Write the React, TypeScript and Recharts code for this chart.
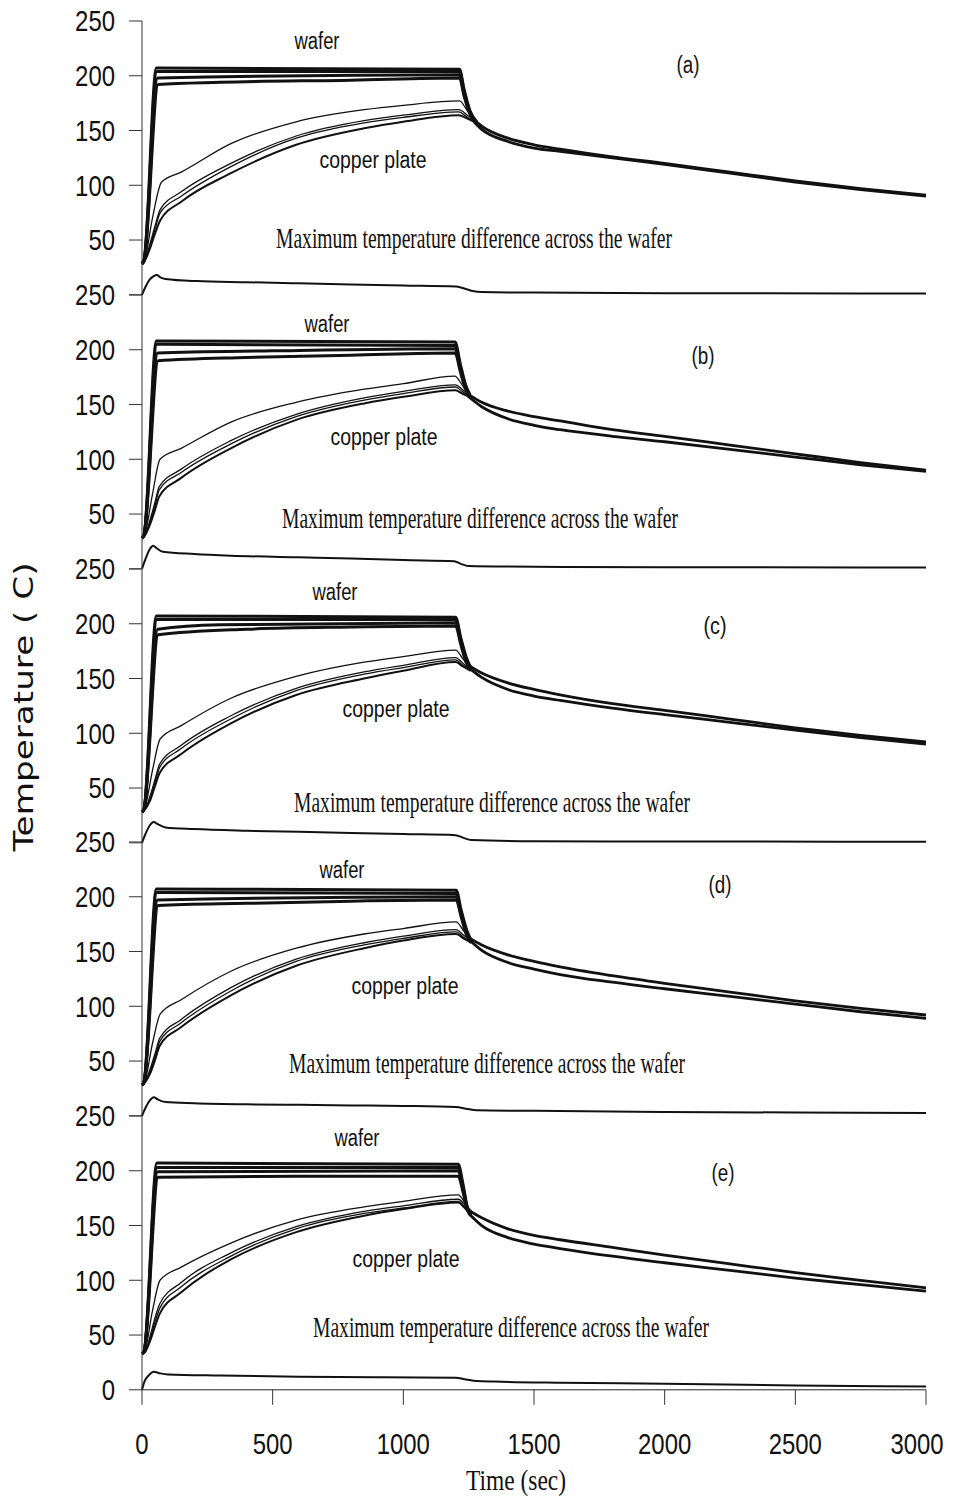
import { Line, LineChart, XAxis, YAxis } from "recharts";

type Pt = [number, number];

// time (sec), temperature (C)
const waferA: Pt[][] = [
  [[0, 29], [8, 32], [55, 207], [1215, 206], [1232, 188], [1255, 168], [1280, 158]],
  [[0, 29], [8, 32], [57, 204], [1215, 204], [1232, 186], [1255, 167], [1280, 158]],
  [[0, 28], [8, 31], [60, 198], [1215, 201], [1232, 184], [1255, 166], [1280, 157]],
  [[0, 28], [8, 31], [62, 192], [300, 194], [800, 196], [1215, 198], [1232, 182], [1255, 165], [1280, 157]],
];
const copperA: Pt[][] = [
  [[0, 29], [10, 32], [40, 70], [75, 103], [150, 112], [340, 138], [590, 158], [850, 169], [1000, 173], [1215, 177], [1245, 168], [1280, 158]],
  [[0, 29], [10, 31], [30, 46], [50, 63], [70, 78], [150, 94], [340, 120], [590, 145], [850, 159], [1000, 164], [1212, 169], [1245, 164], [1280, 158]],
  [[0, 29], [10, 31], [30, 44], [50, 60], [70, 75], [150, 90], [340, 117], [590, 143], [850, 157], [1000, 162], [1212, 167], [1245, 162], [1280, 157]],
  [[0, 29], [10, 31], [30, 42], [50, 56], [70, 68], [150, 85], [340, 111], [590, 137], [850, 152], [1000, 158], [1212, 164], [1245, 161], [1280, 157]],
];
const decayA: Pt[][] = [
  [[1270, 160], [1300, 154], [1400, 143], [1500, 137], [1600, 133], [1800, 126], [2000, 120], [2250, 112], [2500, 104], [2750, 97], [3000, 91]],
  [[1270, 158], [1300, 151], [1400, 140], [1500, 134], [1600, 131], [1800, 125], [2000, 119], [2250, 111], [2500, 103], [2750, 96], [3000, 90]],
];
const diffA: Pt[] = [
  [0, 0], [15, 8], [30, 14], [45, 17], [57, 18], [70, 16], [90, 14.5], [210, 12.5], [400, 11.5], [600, 10.5],
  [800, 9.5], [1000, 8.5], [1200, 7.5], [1230, 6], [1265, 3.5], [1300, 2.5], [1500, 2], [2000, 1.5], [3000, 1.2],
];

const waferB: Pt[][] = [
  [[0, 28], [8, 31], [55, 208], [1198, 207], [1218, 187], [1238, 168], [1255, 159]],
  [[0, 28], [8, 31], [57, 205], [1198, 204], [1218, 185], [1238, 167], [1255, 158]],
  [[0, 28], [8, 31], [60, 197], [500, 199], [1198, 201], [1218, 183], [1238, 166], [1255, 158]],
  [[0, 28], [8, 31], [62, 190], [400, 193], [800, 195], [1198, 197], [1218, 180], [1238, 164], [1255, 157]],
];
const copperB: Pt[][] = [
  [[0, 28], [10, 31], [40, 68], [69, 100], [150, 110], [340, 134], [590, 152], [850, 164], [1000, 169], [1197, 176], [1225, 168], [1255, 158]],
  [[0, 28], [10, 30], [30, 44], [50, 61], [66, 75], [150, 91], [340, 117], [590, 141], [850, 156], [1000, 162], [1200, 168], [1225, 164], [1255, 158]],
  [[0, 28], [10, 30], [30, 42], [50, 58], [66, 72], [150, 88], [340, 114], [590, 139], [850, 154], [1000, 160], [1200, 166], [1225, 162], [1255, 157]],
  [[0, 28], [10, 30], [30, 40], [50, 54], [66, 66], [150, 83], [340, 110], [590, 136], [850, 151], [1000, 157], [1200, 163], [1225, 160], [1255, 157]],
];
const decayB: Pt[][] = [
  [[1245, 160], [1300, 152], [1400, 144], [1500, 139], [1600, 135], [1800, 127], [2000, 121], [2250, 113], [2500, 105], [2750, 97], [3000, 90]],
  [[1245, 158], [1300, 148], [1400, 137], [1500, 131], [1600, 127], [1800, 121], [2000, 116], [2250, 109], [2500, 102], [2750, 95], [3000, 89]],
];
const diffB: Pt[] = [
  [0, 0], [15, 10], [30, 18], [43, 21], [55, 19], [80, 15.5], [200, 13.5], [340, 12], [600, 10.5], [800, 9.5],
  [1000, 8], [1195, 7], [1220, 4.5], [1250, 2.5], [1400, 2], [2000, 1.5], [3000, 1.2],
];

const waferC: Pt[][] = [
  [[0, 28], [8, 31], [55, 207], [1200, 206], [1220, 187], [1240, 170], [1258, 160]],
  [[0, 28], [8, 31], [57, 204], [1200, 204], [1220, 185], [1240, 168], [1258, 159]],
  [[0, 28], [8, 31], [60, 195], [300, 199], [1200, 201], [1220, 183], [1240, 167], [1258, 159]],
  [[0, 28], [8, 31], [62, 190], [400, 195], [800, 197], [1200, 198], [1220, 181], [1240, 165], [1258, 158]],
];
const copperC: Pt[][] = [
  [[0, 28], [10, 31], [40, 66], [70, 95], [150, 107], [340, 132], [590, 152], [850, 165], [1000, 170], [1200, 176], [1228, 168], [1258, 159]],
  [[0, 28], [10, 30], [30, 42], [50, 58], [68, 72], [150, 89], [340, 116], [590, 141], [850, 156], [1000, 162], [1200, 169], [1228, 164], [1258, 158]],
  [[0, 28], [10, 30], [30, 40], [50, 55], [68, 69], [150, 86], [340, 113], [590, 139], [850, 154], [1000, 160], [1200, 167], [1228, 162], [1258, 158]],
  [[0, 28], [10, 30], [30, 38], [50, 52], [68, 64], [150, 81], [340, 109], [590, 135], [850, 150], [1000, 157], [1200, 165], [1228, 161], [1258, 157]],
];
const decayC: Pt[][] = [
  [[1250, 162], [1300, 155], [1400, 146], [1500, 140], [1600, 135], [1800, 127], [2000, 121], [2250, 113], [2500, 105], [2750, 98], [3000, 92]],
  [[1250, 160], [1300, 151], [1400, 140], [1500, 134], [1600, 130], [1800, 123], [2000, 117], [2250, 110], [2500, 103], [2750, 96], [3000, 90]],
];
const diffC: Pt[] = [
  [0, 0], [15, 9], [30, 16], [45, 19], [60, 17], [90, 14], [200, 12.5], [400, 11], [600, 10], [800, 9],
  [1000, 8], [1200, 7], [1230, 4.5], [1260, 2.5], [1500, 1.5], [2000, 1.2], [3000, 1],
];

const waferD: Pt[][] = [
  [[0, 28], [8, 31], [55, 207], [1202, 206], [1222, 187], [1242, 170], [1260, 160]],
  [[0, 28], [8, 31], [57, 204], [1202, 203], [1222, 185], [1242, 168], [1260, 159]],
  [[0, 28], [8, 31], [60, 197], [1202, 200], [1222, 183], [1242, 167], [1260, 159]],
  [[0, 28], [8, 31], [62, 192], [400, 194], [800, 196], [1202, 197], [1222, 181], [1242, 165], [1260, 158]],
];
const copperD: Pt[][] = [
  [[0, 28], [10, 31], [40, 66], [70, 93], [150, 106], [340, 132], [590, 153], [850, 166], [1000, 171], [1202, 177], [1230, 169], [1260, 160]],
  [[0, 28], [10, 30], [30, 42], [50, 57], [68, 71], [150, 88], [340, 117], [590, 143], [850, 158], [1000, 164], [1202, 170], [1230, 165], [1260, 159]],
  [[0, 28], [10, 30], [30, 40], [50, 54], [68, 68], [150, 85], [340, 114], [590, 141], [850, 156], [1000, 162], [1202, 168], [1230, 163], [1260, 158]],
  [[0, 28], [10, 30], [30, 38], [50, 51], [68, 64], [150, 81], [340, 110], [590, 137], [850, 153], [1000, 160], [1202, 166], [1230, 162], [1260, 158]],
];
const decayD: Pt[][] = [
  [[1255, 162], [1300, 156], [1400, 147], [1500, 141], [1600, 136], [1800, 128], [2000, 121], [2250, 113], [2500, 105], [2750, 98], [3000, 92]],
  [[1255, 160], [1300, 151], [1400, 140], [1500, 134], [1600, 129], [1800, 122], [2000, 116], [2250, 109], [2500, 102], [2750, 95], [3000, 89]],
];
const diffD: Pt[] = [
  [0, 0], [15, 8], [30, 14], [45, 17], [60, 15], [90, 12.5], [200, 11.5], [400, 10.5], [600, 10], [800, 9.5],
  [1000, 9], [1200, 8], [1240, 6.5], [1280, 5], [1500, 4.5], [2000, 3.5], [2500, 3], [3000, 2.5],
];

const waferE: Pt[][] = [
  [[0, 33], [8, 35], [57, 207], [1210, 206], [1228, 188], [1245, 167], [1260, 162]],
  [[0, 33], [8, 35], [58, 203], [1210, 203], [1228, 186], [1245, 166], [1260, 161]],
  [[0, 33], [8, 35], [60, 199], [1210, 200], [1228, 184], [1245, 165], [1260, 160]],
  [[0, 33], [8, 35], [62, 194], [600, 195], [1210, 195], [1228, 181], [1245, 164], [1260, 159]],
];
const copperE: Pt[][] = [
  [[0, 33], [10, 35], [40, 72], [69, 100], [150, 112], [340, 134], [590, 155], [850, 167], [1000, 172], [1210, 178], [1235, 171], [1260, 162]],
  [[0, 33], [10, 34], [30, 48], [50, 66], [69, 79], [150, 98], [340, 125], [590, 149], [850, 163], [1000, 168], [1210, 174], [1235, 169], [1260, 161]],
  [[0, 33], [10, 34], [30, 46], [50, 62], [69, 75], [150, 94], [340, 122], [590, 147], [850, 161], [1000, 166], [1210, 172], [1235, 167], [1260, 160]],
  [[0, 33], [10, 34], [30, 44], [50, 58], [69, 70], [150, 89], [340, 119], [590, 144], [850, 159], [1000, 165], [1210, 171], [1235, 166], [1260, 159]],
];
const decayE: Pt[][] = [
  [[1250, 164], [1300, 157], [1400, 147], [1500, 141], [1600, 137], [1800, 130], [2000, 123], [2250, 115], [2500, 107], [2750, 100], [3000, 93]],
  [[1250, 161], [1300, 150], [1400, 139], [1500, 133], [1600, 129], [1800, 122], [2000, 116], [2250, 109], [2500, 102], [2750, 96], [3000, 90]],
];
const diffE: Pt[] = [
  [0, 0], [10, 8], [25, 13], [46, 16.4], [70, 15], [100, 14], [300, 13], [600, 12], [900, 11.5], [1200, 11],
  [1240, 9.5], [1280, 8], [1350, 7.5], [1600, 6.5], [2000, 5.5], [2500, 4], [3000, 3],
];

const yTicks = [0, 50, 100, 150, 200, 250];
const xTicks = [0, 500, 1000, 1500, 2000, 2500, 3000];
const panelTags = ["(a)", "(b)", "(c)", "(d)", "(e)"];

const panels = [
  { wafer: waferA, copper: copperA, decay: decayA, diff: diffA },
  { wafer: waferB, copper: copperB, decay: decayB, diff: diffB },
  { wafer: waferC, copper: copperC, decay: decayC, diff: diffC },
  { wafer: waferD, copper: copperD, decay: decayD, diff: diffD },
  { wafer: waferE, copper: copperE, decay: decayE, diff: diffE },
];

// where the in-plot labels sit, page pixels
const notes = [
  { wafer: [317, 49], tag: [688, 73], copper: [373, 168], diff: [474, 248] },
  { wafer: [327, 332], tag: [703, 364], copper: [384, 445], diff: [480, 528] },
  { wafer: [335, 600], tag: [715, 634], copper: [396, 717], diff: [492, 812] },
  { wafer: [342, 878], tag: [720, 893], copper: [405, 994], diff: [487, 1073] },
  { wafer: [357, 1146], tag: [723, 1181], copper: [406, 1267], diff: [511, 1337] },
];

const PLOT_TOP = 21;
const PANEL_H = 273.8;
const PLOT_LEFT = 142;
const PLOT_RIGHT = 926;
const Y_W = 100;
const MT = 24;
const X_H = 70;

const ink = "#111";
const sans = '"Liberation Sans", Arial, sans-serif';
const serif = '"Liberation Serif", "Times New Roman", serif';
const DIGIT_W = 13.3;

const rows = (pts: Pt[]) => pts.map(([t, v]) => ({ t, v }));

// narrow (Arial Narrow-like) labels, squeezed to the reference's width
function NarrowText({ x, y, dy, anchor, size, width, children }: any) {
  return (
    <text
      x={x}
      y={y}
      dy={dy}
      textAnchor={anchor}
      fontFamily={sans}
      fontSize={size}
      fill={ink}
      textLength={width}
      lengthAdjust="spacingAndGlyphs"
    >
      {children}
    </text>
  );
}

function YTick(props: any) {
  const { x, y, payload, hideZero } = props;
  if (hideZero && payload.value === 0) return <g />;
  const s = String(payload.value);
  return (
    <NarrowText x={x} y={y} dy="0.36em" anchor="end" size={29} width={s.length * DIGIT_W}>
      {s}
    </NarrowText>
  );
}

function XTick(props: any) {
  const { x, y, payload } = props;
  const s = String(payload.value);
  // the last label is pulled inside the frame, as in the original
  const shift = payload.value === 3000 ? -9 : 0;
  return (
    <NarrowText x={x + shift} y={y} dy="0.71em" anchor="middle" size={29} width={s.length * DIGIT_W}>
      {s}
    </NarrowText>
  );
}

function Panel({ index }: { index: number }) {
  const p = panels[index];
  const last = index === panels.length - 1;
  const height = MT + PANEL_H + (last ? X_H : 2);
  return (
    <div
      style={{
        position: "absolute",
        left: 0,
        top: PLOT_TOP + index * PANEL_H - MT,
        width: 958,
        height,
      }}
    >
      <LineChart
        width={958}
        height={height}
        margin={{ top: MT, right: 958 - PLOT_RIGHT, bottom: last ? 0 : 2, left: PLOT_LEFT - Y_W }}
      >
        <XAxis
          dataKey="t"
          type="number"
          domain={[0, 3000]}
          ticks={xTicks}
          allowDuplicatedCategory={false}
          height={last ? X_H : 0}
          tick={last ? <XTick /> : false}
          tickLine={last ? { stroke: "#333" } : false}
          tickSize={15}
          tickMargin={29}
          axisLine={{ stroke: "#222" }}
        />
        <YAxis
          type="number"
          domain={[0, 250]}
          ticks={yTicks}
          interval={0}
          width={Y_W}
          tick={<YTick hideZero={!last} />}
          tickSize={13}
          tickMargin={14}
          tickLine={{ stroke: "#333" }}
          axisLine={{ stroke: "#333" }}
        />
        {p.wafer.map((s, i) => (
          <Line key={`w${i}`} data={rows(s)} dataKey="v" type="monotone" stroke={ink} strokeWidth={3} dot={false} isAnimationActive={false} />
        ))}
        {p.copper.map((s, i) => (
          <Line key={`c${i}`} data={rows(s)} dataKey="v" type="monotone" stroke={ink} strokeWidth={i === 3 ? 2 : 1.3} dot={false} isAnimationActive={false} />
        ))}
        {p.decay.map((s, i) => (
          <Line key={`d${i}`} data={rows(s)} dataKey="v" type="monotone" stroke={ink} strokeWidth={2.8} dot={false} isAnimationActive={false} />
        ))}
        <Line data={rows(p.diff)} dataKey="v" type="monotone" stroke={ink} strokeWidth={2} dot={false} isAnimationActive={false} />
      </LineChart>
    </div>
  );
}

function Notes() {
  return (
    <svg width={958} height={1501} style={{ position: "absolute", left: 0, top: 0, pointerEvents: "none" }}>
      {notes.map((n, i) => (
        <g key={i}>
          <NarrowText x={n.wafer[0]} y={n.wafer[1]} anchor="middle" size={23} width={45}>
            wafer
          </NarrowText>
          <NarrowText x={n.tag[0]} y={n.tag[1]} anchor="middle" size={23} width={23}>
            {panelTags[i]}
          </NarrowText>
          <NarrowText x={n.copper[0]} y={n.copper[1]} anchor="middle" size={23} width={107}>
            copper plate
          </NarrowText>
          <text
            x={n.diff[0]}
            y={n.diff[1]}
            textAnchor="middle"
            fontFamily={serif}
            fontSize={30}
            fill={ink}
            textLength={396}
            lengthAdjust="spacingAndGlyphs"
          >
            Maximum temperature difference across the wafer
          </text>
        </g>
      ))}
      <text x={516} y={1490} textAnchor="middle" fontFamily={serif} fontSize={30} textLength={100} lengthAdjust="spacingAndGlyphs" fill={ink}>
        Time (sec)
      </text>
      <text
        x={33}
        y={707}
        transform="rotate(-90 33 707)"
        textAnchor="middle"
        fontFamily='"DejaVu Sans", Verdana, sans-serif'
        fontSize={27}
        textLength={289}
        lengthAdjust="spacingAndGlyphs"
        fill={ink}
      >
        Temperature ( C)
      </text>
    </svg>
  );
}

export default function App() {
  return (
    <div style={{ position: "absolute", left: 0, top: 0, width: 958, height: 1501, background: "#fff" }}>
      {panels.map((_, i) => (
        <Panel key={i} index={i} />
      ))}
      <Notes />
    </div>
  );
}
